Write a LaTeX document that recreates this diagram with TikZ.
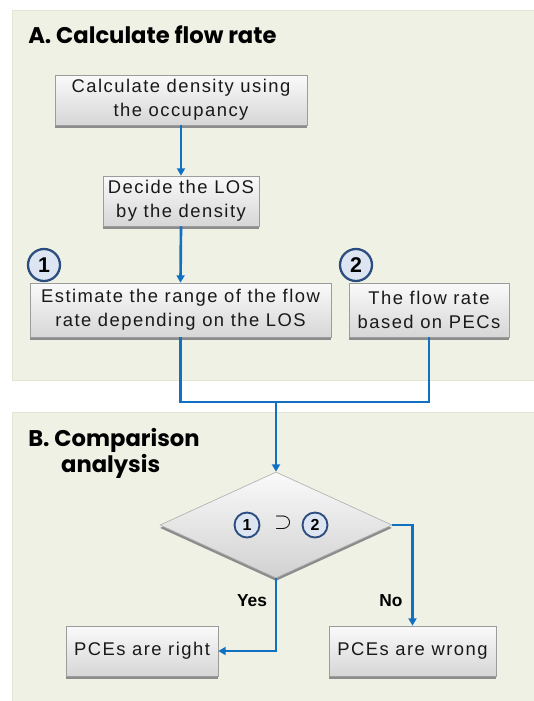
\documentclass[tikz,border=0pt]{standalone}
\usepackage{fontspec}
\setmainfont{Liberation Sans}
\newfontfamily\headfont{Poppins}[UprightFont=* Bold]
\newfontfamily\boxfont{Liberation Sans}[LetterSpace=8]
\usetikzlibrary{shapes.geometric,shadows,arrows.meta}
\definecolor{panelbg}{HTML}{EEF1E3}
\definecolor{panelrule}{HTML}{E2E7D3}
\definecolor{flow}{HTML}{1270C2}
\definecolor{ringblue}{HTML}{2B4C7E}
\definecolor{ringfill}{HTML}{DCE5F1}
\definecolor{boxrule}{HTML}{9C9C9C}
\tikzset{
  panel/.style={fill=panelbg,draw=panelrule,line width=0.6pt},
  heading/.style={anchor=west,inner sep=0pt,font=\headfont\fontsize{17pt}{19.5pt}\selectfont,align=left,text=black},
  stepbox/.style={rectangle,draw=boxrule,line width=0.5pt,top color=gray!4,bottom color=gray!32,
    inner sep=0pt,align=center,text=black!90,
    font=\boxfont\fontsize{13.8pt}{18pt}\selectfont,
    drop shadow={shadow xshift=0pt,shadow yshift=-2.2pt,fill=black!45,opacity=1}},
  decision/.style={diamond,draw=gray!60,line width=0.5pt,top color=gray!4,bottom color=gray!36,inner sep=0pt,
    drop shadow={shadow xshift=0pt,shadow yshift=-2.2pt,fill=black!45,opacity=1}},
  ring/.style={circle,draw=ringblue,fill=ringfill,line width=1.7pt,inner sep=0pt,
    font=\fontsize{16pt}{16pt}\selectfont\bfseries},
  smallring/.style={ring,line width=1.4pt,font=\fontsize{12pt}{12pt}\selectfont\bfseries},
  flowline/.style={draw=flow,line width=2pt},
  flowarrow/.style={flowline,-{Triangle[length=5.5pt,width=6pt]}},
  answer/.style={font=\bfseries\fontsize{13pt}{15pt}\selectfont,text=black}
}
\begin{document}
\begin{tikzpicture}[x=0.75pt,y=-0.75pt]
\useasboundingbox (0,0) rectangle (534,701);
\fill[white] (0,0) rectangle (534,701);
% panels
\path[panel] (12,10) rectangle (540,380);
\path[panel] (12,412) rectangle (540,710);
\node[heading] (ha) at (28,35) {A. Calculate flow rate};
\node[heading] (hb) at (28,453) {B. Comparison\\\hspace*{1.45em}analysis};
% section A boxes
\node[stepbox,minimum width=252*0.75pt,minimum height=50*0.75pt] (b1) at (181,100)
  {Calculate density using\\the occupancy};
\node[stepbox,minimum width=156*0.75pt,minimum height=50*0.75pt] (b2) at (181,201)
  {Decide the LOS\\by the density};
\node[stepbox,minimum width=301*0.75pt,minimum height=54*0.75pt] (b3) at (180.5,310)
  {Estimate the range of the flow\\rate depending on the LOS};
\node[stepbox,minimum width=160*0.75pt,minimum height=54*0.75pt] (b4) at (429,310)
  {The flow rate\\based on PECs};
\node[ring,minimum size=32*0.75pt] (r1) at (44,265) {1};
\node[ring,minimum size=32*0.75pt] (r2) at (356,265) {2};
% section B
\node[decision,minimum width=232*0.75pt,minimum height=106*0.75pt] (d) at (276,525) {};
\node[smallring,minimum size=25*0.75pt] (s1) at (247,525) {1};
\node[font=\fontsize{17pt}{17pt}\selectfont] (sup) at (283,523) {$\supset$};
\node[smallring,minimum size=25*0.75pt] (s2) at (315,525) {2};
\node[stepbox,minimum width=152*0.75pt,minimum height=50*0.75pt] (br) at (142,651) {PCEs are right};
\node[stepbox,minimum width=167*0.75pt,minimum height=50*0.75pt] (bw) at (412.5,651) {PCEs are wrong};
\node[answer] (yes) at (252,601) {Yes};
\node[answer] (no) at (391,601) {No};
% connectors
\coordinate (join) at (276,402);
\draw[flowarrow] (b1.south) -- (b2.north);
\draw[flowarrow] (b2.south) -- (b3.north);
\draw[flowline] (b3.south) |- (join);
\draw[flowline] (b4.south) |- (join);
\draw[flowarrow] (join) -- (d.north);
\draw[flowarrow] (d.east) -| (bw.north);
\draw[flowarrow] (d.south) |- (br.east);
\end{tikzpicture}
\end{document}
